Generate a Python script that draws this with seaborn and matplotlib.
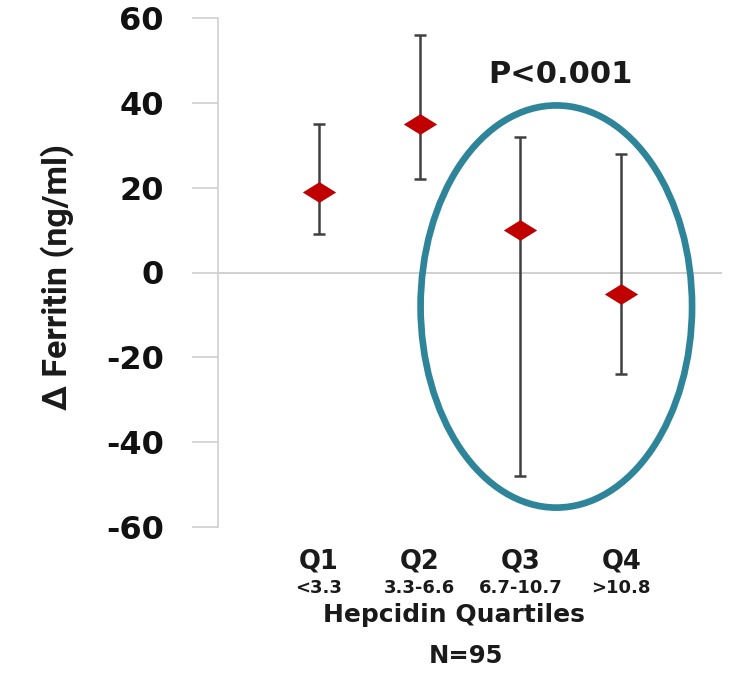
import matplotlib
matplotlib.use("Agg")
import matplotlib.pyplot as plt
from matplotlib.patches import Ellipse
from matplotlib.path import Path
import seaborn as sns
import pandas as pd

quartiles = ["Q1", "Q2", "Q3", "Q4"]
ranges = ["<3.3", "3.3-6.6", "6.7-10.7", ">10.8"]
means = [19, 35, 10, -5]
upper = [35, 56, 32, 28]
lower = [9, 22, -48, -24]
yticks = [-60, -40, -20, 0, 20, 40, 60]

sns.set_theme(style="white")
plt.rcParams['font.family'] = ['DejaVu Sans']

fig = plt.figure(figsize=(7.36, 6.75), dpi=100)
ax = fig.add_axes([218/736, 1-527/675, (722-218)/736, (527-18)/675])

xpos = [1, 2, 3, 4]
df = pd.DataFrame({"x": xpos, "y": means, "q": quartiles})

ax.axhline(0, color="#c8c8c8", lw=1.2, zorder=1)
for x, lo, hi in zip(xpos, lower, upper):
    ax.errorbar([x], [(lo+hi)/2], yerr=[[(hi-lo)/2], [(hi-lo)/2]], fmt="none",
                ecolor="#404040", elinewidth=1.8, capsize=4.5, capthick=1.8, zorder=2)

diamond = Path([(-1, 0), (0, 0.62), (1, 0), (0, -0.62), (-1, 0)],
               [Path.MOVETO, Path.LINETO, Path.LINETO, Path.LINETO, Path.CLOSEPOLY])
sns.scatterplot(data=df, x="x", y="y", marker=diamond, s=24**2, color="#c00000",
                edgecolor="#c00000", linewidth=0, ax=ax, zorder=3, legend=False)

ax.set_xlim(0, 5)
ax.set_ylim(-60, 60)
ax.set_yticks(yticks)
ax.set_yticklabels([str(v) for v in yticks], fontsize=23, fontweight="bold", color="#111111")
ax.tick_params(axis="y", length=19, width=1.2, color="#d0d0d0", pad=20, left=True)
ax.set_xticks([])
ax.set_xlabel("")
ax.set_ylabel("")
for s in ["top", "right", "bottom"]:
    ax.spines[s].set_visible(False)
ax.spines["left"].set_color("#d0d0d0")
ax.spines["left"].set_linewidth(1.2)

trans = ax.get_xaxis_transform()
H = 509.0
for x, q, r in zip(xpos, quartiles, ranges):
    ax.text(x, (527-561)/H, q, transform=trans, ha="center", va="center", fontsize=18.5,
            fontweight="bold", color="#1a1a1a")
    ax.text(x, (527-588)/H, r, transform=trans, ha="center", va="center", fontsize=13,
            fontweight="bold", color="#1a1a1a")
ax.text((454-218)/101, (527-615)/H, "Hepcidin Quartiles", transform=trans, ha="center",
        va="center", fontsize=18, fontweight="bold", color="#1a1a1a")
ax.text((466-218)/101, (527-656)/H, "N=95", transform=trans, ha="center", va="center",
        fontsize=17.5, fontweight="bold", color="#1a1a1a")

fig.text(57/736, 1-277/675, "Δ Ferritin (ng/ml)", rotation=90, ha="center", va="center",
         fontsize=24.5, fontweight="bold", color="#1a1a1a",
         family=["Roboto", "DejaVu Sans"])

ax.text((561-218)/101, (271-73)/4.24, "P<0.001", ha="center", va="center", fontsize=22,
        fontweight="bold", color="#1a1a1a")

ell = Ellipse(((557-218)/101, (271-305)/4.24), width=272/101, height=402/4.24,
              fill=False, edgecolor="#2e8499", lw=4.8, clip_on=False, zorder=4)
ax.add_patch(ell)

fig.savefig("out.png", dpi=100)
